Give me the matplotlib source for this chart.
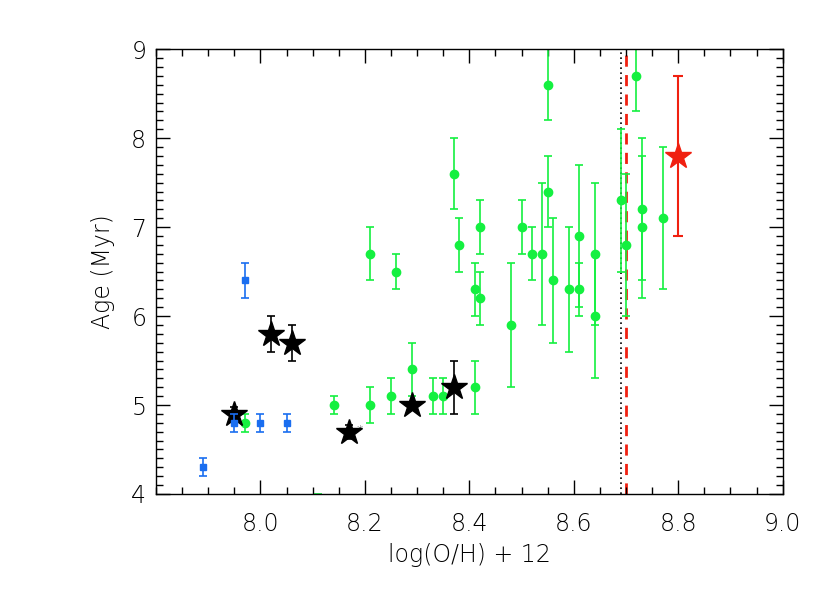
import matplotlib
matplotlib.use("Agg")
import matplotlib.pyplot as plt
from matplotlib.ticker import MultipleLocator

# green circles: comparison sample
green_x = [7.97, 8.14, 8.11, 8.21, 8.21, 8.25, 8.26, 8.29, 8.33, 8.35, 8.37, 8.38,
           8.41, 8.41, 8.42, 8.42, 8.48, 8.50, 8.52, 8.54, 8.55, 8.55, 8.56, 8.59,
           8.61, 8.61, 8.64, 8.64, 8.69, 8.70, 8.72, 8.73, 8.73, 8.77]
green_y = [4.8, 5.0, 3.7, 5.0, 6.7, 5.1, 6.5, 5.4, 5.1, 5.1, 7.6, 6.8,
           5.2, 6.3, 7.0, 6.2, 5.9, 7.0, 6.7, 6.7, 8.6, 7.4, 6.4, 6.3,
           6.9, 6.3, 6.7, 6.0, 7.3, 6.8, 8.7, 7.2, 7.0, 7.1]
green_err = [0.1, 0.1, 0.3, 0.2, 0.3, 0.2, 0.2, 0.3, 0.2, 0.2, 0.4, 0.3,
             0.3, 0.3, 0.3, 0.3, 0.7, 0.3, 0.3, 0.8, 0.4, 0.4, 0.7, 0.7,
             0.8, 0.3, 0.8, 0.7, 0.8, 0.8, 0.4, 0.8, 0.8, 0.8]

# blue squares
blue_x = [7.89, 7.95, 7.97, 8.00, 8.05]
blue_y = [4.3, 4.8, 6.4, 4.8, 4.8]
blue_err = [0.1, 0.1, 0.2, 0.1, 0.1]

# black stars
star_x = [7.95, 8.02, 8.06, 8.17, 8.29, 8.37]
star_y = [4.9, 5.8, 5.7, 4.7, 5.0, 5.2]
star_err = [0.08, 0.2, 0.2, 0.08, 0.0, 0.3]

# red star
red_x = [8.80]
red_y = [7.8]
red_err = [0.9]

dotted_x = 8.69
dashed_x = 8.70

green = "#14f040"
blue = "#1a6ef0"
red = "#f02010"

plt.rcParams['font.family'] = ['DejaVu Sans']
plt.rcParams['font.weight'] = 'light'
plt.rcParams['axes.labelweight'] = 'light'

fig = plt.figure(figsize=(8.30, 5.93), dpi=100)
ax = fig.add_axes([0.188, 0.167, 0.755, 0.750])

ax.errorbar(green_x, green_y, yerr=green_err, fmt='o', color=green, ms=6,
            elinewidth=1.2, capsize=2.6, capthick=1.2, zorder=2)
ax.errorbar(star_x, star_y, yerr=star_err, fmt='none', ecolor='black',
            elinewidth=1.2, capsize=3, capthick=1.2, zorder=3)
ax.plot(star_x, star_y, '*', color='black', ms=19, zorder=3)
ax.errorbar(blue_x, blue_y, yerr=blue_err, fmt='s', color=blue, ms=5,
            elinewidth=1.2, capsize=3, capthick=1.2, zorder=4)
ax.errorbar(red_x, red_y, yerr=red_err, fmt='*', color=red, ms=19,
            elinewidth=1.5, capsize=3.3, capthick=1.5, zorder=4)
ax.text(8.183, 4.72, '*', fontsize=9, ha='left', va='center')

ax.axvline(dotted_x, color='black', ls=(0, (1, 2)), lw=1.2, zorder=1)
ax.axvline(dashed_x, color=red, ls=(0, (4, 3)), lw=2, zorder=1)

ax.set_xlim(7.8, 9.0)
ax.set_ylim(4, 9)
ax.xaxis.set_minor_locator(MultipleLocator(0.05))
ax.yaxis.set_major_locator(MultipleLocator(1))
ax.yaxis.set_minor_locator(MultipleLocator(0.1))
ax.set_xticks([8.0, 8.2, 8.4, 8.6, 8.8, 9.0])
ax.tick_params(which='both', direction='in', top=True, right=True, labelsize=17)
ax.tick_params(which='major', length=10, width=1)
ax.tick_params(which='minor', length=5, width=1)
ax.tick_params(axis='x', pad=13)
ax.tick_params(axis='y', pad=7)
for s in ax.spines.values():
    s.set_linewidth(1)

ax.set_xlabel('log(O/H) + 12', fontsize=17, labelpad=5)
ax.set_ylabel('Age (Myr)', fontsize=17, labelpad=12)

fig.savefig('out.png', dpi=100)
